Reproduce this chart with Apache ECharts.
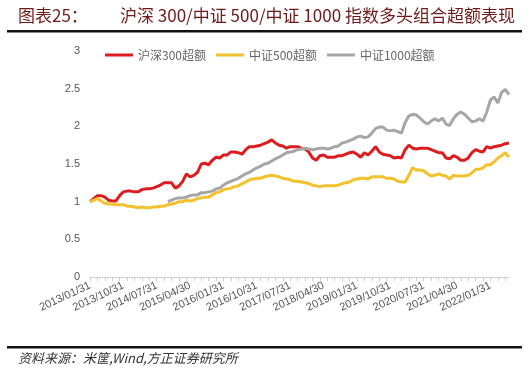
<!DOCTYPE html>
<html><head><meta charset="utf-8">
<script src="https://cdn.jsdelivr.net/npm/echarts@6/dist/echarts.min.js"></script>
<style>html,body{margin:0;padding:0;background:#fff}#c{width:531px;height:375px}</style>
</head><body><div id="c"></div>
<script>
const dates = [
"2013/01/31","2013/02/28","2013/03/31","2013/04/30","2013/05/31","2013/06/30","2013/07/31","2013/08/31","2013/09/30","2013/10/31","2013/11/30","2013/12/31",
"2014/01/31","2014/02/28","2014/03/31","2014/04/30","2014/05/31","2014/06/30","2014/07/31","2014/08/31","2014/09/30","2014/10/31","2014/11/30","2014/12/31",
"2015/01/31","2015/02/28","2015/03/31","2015/04/30","2015/05/31","2015/06/30","2015/07/31","2015/08/31","2015/09/30","2015/10/31","2015/11/30","2015/12/31",
"2016/01/31","2016/02/29","2016/03/31","2016/04/30","2016/05/31","2016/06/30","2016/07/31","2016/08/31","2016/09/30","2016/10/31","2016/11/30","2016/12/31",
"2017/01/31","2017/02/28","2017/03/31","2017/04/30","2017/05/31","2017/06/30","2017/07/31","2017/08/31","2017/09/30","2017/10/31","2017/11/30","2017/12/31",
"2018/01/31","2018/02/28","2018/03/31","2018/04/30","2018/05/31","2018/06/30","2018/07/31","2018/08/31","2018/09/30","2018/10/31","2018/11/30","2018/12/31",
"2019/01/31","2019/02/28","2019/03/31","2019/04/30","2019/05/31","2019/06/30","2019/07/31","2019/08/31","2019/09/30","2019/10/31","2019/11/30","2019/12/31",
"2020/01/31","2020/02/29","2020/03/31","2020/04/30","2020/05/31","2020/06/30","2020/07/31","2020/08/31","2020/09/30","2020/10/31","2020/11/30","2020/12/31",
"2021/01/31","2021/02/28","2021/03/31","2021/04/30","2021/05/31","2021/06/30","2021/07/31","2021/08/31","2021/09/30","2021/10/31","2021/11/30","2021/12/31",
"2022/01/31","2022/02/28","2022/03/31","2022/04/30","2022/05/31","2022/06/30"
];
const hs300 = [1.00,1.04,1.08,1.08,1.06,1.02,1.01,1.01,1.08,1.13,1.14,1.14,
1.13,1.13,1.16,1.17,1.17,1.18,1.20,1.22,1.25,1.25,1.25,1.18,
1.21,1.27,1.37,1.33,1.35,1.39,1.50,1.51,1.49,1.55,1.59,1.58,
1.62,1.62,1.66,1.66,1.65,1.63,1.69,1.73,1.73,1.74,1.75,1.77,
1.79,1.82,1.78,1.75,1.74,1.71,1.73,1.73,1.73,1.71,1.70,1.66,
1.58,1.55,1.61,1.62,1.59,1.59,1.59,1.61,1.61,1.63,1.65,1.66,
1.63,1.59,1.65,1.62,1.67,1.73,1.66,1.63,1.62,1.61,1.58,1.59,
1.58,1.69,1.75,1.71,1.70,1.71,1.71,1.71,1.69,1.67,1.65,1.65,
1.58,1.57,1.61,1.59,1.55,1.55,1.58,1.65,1.69,1.67,1.66,1.73,
1.71,1.73,1.74,1.75,1.77,1.78];
const zz500 = [1.00,1.02,1.04,1.01,0.98,0.97,0.97,0.96,0.96,0.96,0.94,0.94,
0.93,0.92,0.93,0.92,0.92,0.93,0.93,0.94,0.94,0.96,0.97,0.98,
1.00,1.00,1.02,1.01,1.02,1.04,1.05,1.06,1.06,1.09,1.12,1.13,
1.16,1.17,1.18,1.20,1.21,1.24,1.26,1.29,1.30,1.31,1.31,1.33,
1.34,1.35,1.34,1.33,1.31,1.30,1.29,1.27,1.27,1.26,1.25,1.24,
1.22,1.21,1.20,1.21,1.21,1.21,1.21,1.22,1.24,1.25,1.26,1.29,
1.30,1.31,1.31,1.30,1.33,1.33,1.33,1.33,1.31,1.31,1.30,1.27,
1.26,1.26,1.35,1.45,1.42,1.42,1.41,1.37,1.34,1.35,1.37,1.35,
1.34,1.30,1.35,1.34,1.34,1.34,1.35,1.38,1.43,1.43,1.45,1.49,
1.49,1.53,1.58,1.61,1.65,1.59];
const zz1000 = [null,null,null,null,null,null,null,null,null,null,null,null,
null,null,null,null,null,null,null,null,null,1.00,1.02,1.04,
1.05,1.05,1.06,1.08,1.09,1.09,1.12,1.12,1.13,1.14,1.17,1.18,
1.22,1.25,1.27,1.29,1.31,1.34,1.37,1.39,1.42,1.45,1.47,1.50,
1.51,1.54,1.57,1.59,1.62,1.65,1.66,1.67,1.69,1.70,1.71,1.70,
1.69,1.70,1.71,1.71,1.70,1.71,1.73,1.74,1.78,1.79,1.81,1.83,
1.86,1.87,1.85,1.86,1.91,1.97,1.99,1.99,1.95,1.94,1.95,1.93,
1.91,2.05,2.14,2.16,2.15,2.11,2.06,2.03,2.07,2.10,2.07,2.11,
2.03,2.01,2.10,2.16,2.19,2.16,2.11,2.06,2.07,2.10,2.07,2.19,
2.35,2.39,2.31,2.45,2.49,2.42];
const seriesNames = ["沪深300超额","中证500超额","中证1000超额"];
const yTicks = [0,0.5,1,1.5,2,2.5,3];

const chart = echarts.init(document.getElementById('c'));
chart.setOption({
  animation:false,
  backgroundColor:'#fff',
  color:['#dc1c1f','#f3c12c','#a6a6a6'],
  graphic:[
    {type:'text',left:18,top:7,style:{text:'图表25：',font:'17px "Noto Sans CJK SC"',fill:'#6e1a1a'}},
    {type:'text',left:120,top:7,style:{text:'沪深 300/中证 500/中证 1000 指数多头组合超额表现',font:'17px "Noto Sans CJK SC"',fill:'#6e1a1a'}},
    {type:'rect',shape:{x:7,y:30,width:515,height:2.5},style:{fill:'#111'}},
    {type:'rect',shape:{x:7,y:346,width:515,height:2.5},style:{fill:'#111'}},
    {type:'text',left:18,top:352,style:{text:'资料来源：米筐,Wind,方正证券研究所',font:'italic 13px "Noto Sans CJK SC"',fill:'#333'}}
  ],
  legend:{
    top:44,left:100,itemWidth:28,itemHeight:3,itemGap:10,
    icon:'rect',
    textStyle:{color:'#666',fontSize:12,fontFamily:'"Noto Sans CJK SC"'},
    data:seriesNames
  },
  grid:{left:90,right:22,top:51,bottom:98,containLabel:false},
  xAxis:{
    type:'category',data:dates,boundaryGap:false,
    axisLine:{lineStyle:{color:'#d0d0d0'}},
    axisTick:{interval:1,length:4,lineStyle:{color:'#cccccc'}},
    axisLabel:{interval:8,rotate:25,color:'#555',fontSize:11,fontFamily:'Arial, "Liberation Sans"',margin:8}
  },
  yAxis:{
    type:'value',min:yTicks[0],max:yTicks[yTicks.length-1],interval:0.5,
    axisLine:{show:false},axisTick:{show:false},splitLine:{show:false},
    axisLabel:{color:'#555',fontSize:11,fontFamily:'Arial, "Liberation Sans"',margin:10}
  },
  series:[
    {name:seriesNames[0],type:'line',data:hs300,symbol:'none',lineStyle:{width:3}},
    {name:seriesNames[1],type:'line',data:zz500,symbol:'none',lineStyle:{width:3}},
    {name:seriesNames[2],type:'line',data:zz1000,symbol:'none',lineStyle:{width:3}}
  ]
});
</script></body></html>
